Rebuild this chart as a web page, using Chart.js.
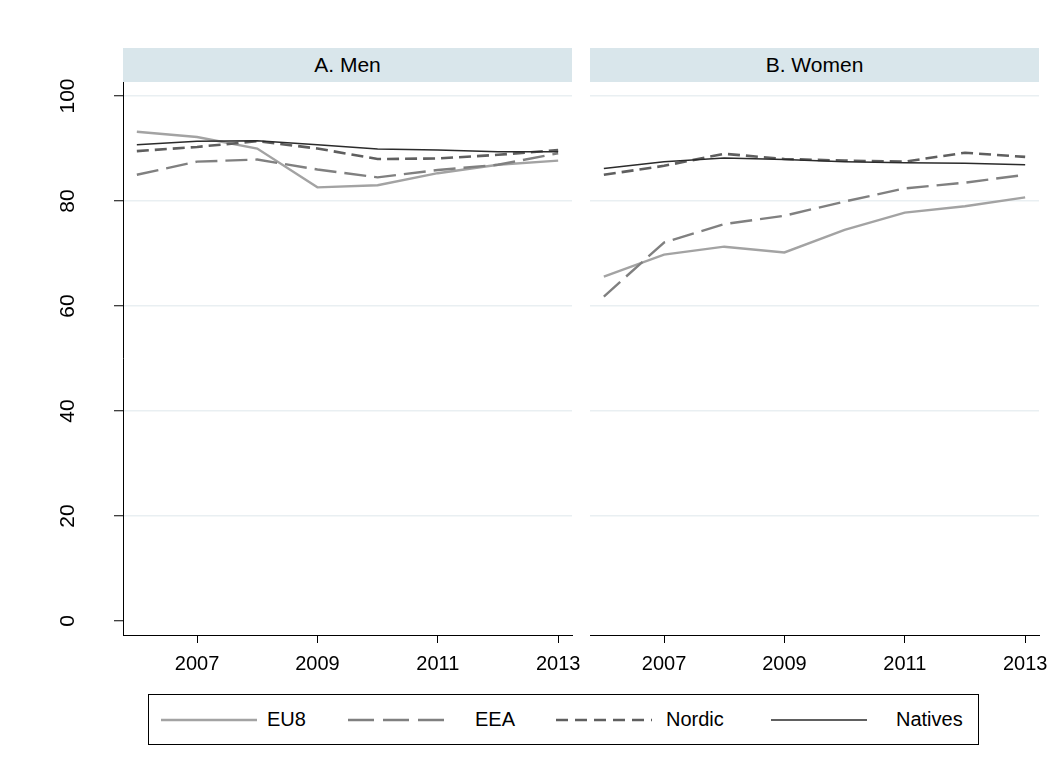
<!DOCTYPE html>
<html>
<head>
<meta charset="utf-8">
<script src="https://cdn.jsdelivr.net/npm/chart.js@4/dist/chart.umd.min.js"></script>
<style>
  body { margin: 0; background: #fff; font-family: "Liberation Sans", Arial, sans-serif; }
  #wrap { position: relative; width: 1063px; height: 773px; }
  canvas { position: absolute; top: 0; }
  .strip { position: absolute; top: 48px; height: 34px; background: #d9e6eb;
           font-size: 21px; line-height: 34px; text-align: center; color: #000; }
  #legend { position: absolute; left: 148px; top: 694px; width: 829px; height: 49px;
            border: 1px solid #000; }
  .key { position: absolute; top: 20px; }
  .lab { position: absolute; top: 0; line-height: 49px; font-size: 20px; color: #000; }
</style>
</head>
<body>
<div id="wrap">
  <canvas id="men" width="590" height="690" style="left:0"></canvas>
  <canvas id="women" width="473" height="690" style="left:590px"></canvas>
  <div class="strip" id="stripMen" style="left:123px;width:449px"></div>
  <div class="strip" id="stripWomen" style="left:590px;width:449px"></div>
  <div id="legend"></div>
</div>
<script>
// data
const years = [2006, 2007, 2008, 2009, 2010, 2011, 2012, 2013];
const xTicks = [2007, 2009, 2011, 2013];
const yTicks = [0, 20, 40, 60, 80, 100];
const panelTitles = ['A. Men', 'B. Women'];
const seriesNames = ['EU8', 'EEA', 'Nordic', 'Natives'];

const menEU8     = [93.2, 92.2, 90.0, 82.6, 83.0, 85.3, 86.9, 87.7];
const menEEA     = [85.0, 87.5, 87.9, 86.0, 84.5, 85.9, 86.9, 89.1];
const menNordic  = [89.5, 90.3, 91.4, 90.0, 88.0, 88.1, 88.8, 89.7];
const menNatives = [90.7, 91.4, 91.5, 90.7, 89.9, 89.7, 89.4, 89.4];

const womenEU8     = [65.6, 69.8, 71.3, 70.2, 74.5, 77.8, 79.0, 80.7];
const womenEEA     = [61.8, 72.1, 75.6, 77.2, 79.9, 82.4, 83.5, 85.0];
const womenNordic  = [85.0, 86.7, 89.0, 88.0, 87.7, 87.5, 89.2, 88.4];
const womenNatives = [86.2, 87.5, 88.2, 87.9, 87.5, 87.3, 87.2, 86.9];

// line styles per series
const colors = ['#a3a3a3', '#808080', '#5f5f5f', '#2b2b2b'];
const widths = [2.4, 2.4, 2.6, 1.5];
const dashes = [[], [22, 8], [12, 6], []];
const legendDashes = [[], [26, 9], [12, 7], []];

const FONT = { family: '"Liberation Sans", Arial, sans-serif', size: 20 };

function makePanel(id, values, showY) {
  const datasets = values.map((vals, i) => ({
    label: seriesNames[i],
    data: years.map((yr, j) => ({ x: yr, y: vals[j] })),
    borderColor: colors[i],
    borderWidth: widths[i],
    borderDash: dashes[i],
    pointRadius: 0,
    fill: false,
    tension: 0,
    order: seriesNames.length - 1 - i
  }));

  return new Chart(document.getElementById(id), {
    type: 'line',
    data: { datasets: datasets },
    options: {
      responsive: false,
      animation: false,
      events: [],
      layout: { padding: { left: 0, right: showY ? 18 : 24, top: 82, bottom: 0 } },
      plugins: { legend: { display: false }, tooltip: { enabled: false } },
      scales: {
        x: {
          type: 'linear',
          min: 2005.77,
          max: 2013.23,
          afterBuildTicks: s => { s.ticks = xTicks.map(v => ({ value: v })); },
          afterFit: s => { s.height = 55; },
          ticks: { font: FONT, color: '#000', padding: 9, maxRotation: 0, callback: v => String(v) },
          grid: { drawOnChartArea: false, tickLength: 8, tickColor: '#000', tickWidth: 1 },
          border: { color: '#000', width: 1 }
        },
        y: {
          min: -2.67,
          max: 102.67,
          afterBuildTicks: s => { s.ticks = yTicks.map(v => ({ value: v })); },
          afterFit: s => { s.width = showY ? 123 : 0; },
          ticks: {
            display: showY, font: { family: FONT.family, size: 21 }, color: '#000', padding: 28,
            minRotation: 90, maxRotation: 90, crossAlign: 'center', autoSkip: false
          },
          grid: {
            color: ctx => (ctx.tick && ctx.tick.value === 0) ? 'rgba(0,0,0,0)' : '#e9eff2',
            lineWidth: 1.5,
            drawTicks: showY, tickLength: 9, tickColor: '#000', tickWidth: 1
          },
          border: { display: showY, color: '#000', width: 1 }
        }
      }
    }
  });
}

makePanel('men', [menEU8, menEEA, menNordic, menNatives], true);
makePanel('women', [womenEU8, womenEEA, womenNordic, womenNatives], false);

document.getElementById('stripMen').textContent = panelTitles[0];
document.getElementById('stripWomen').textContent = panelTitles[1];

// legend
const keyLeft = [12, 199, 407, 622];
const labLeft = [118, 326, 517, 747];
const legend = document.getElementById('legend');
seriesNames.forEach((name, i) => {
  const svgNS = 'http://www.w3.org/2000/svg';
  const svg = document.createElementNS(svgNS, 'svg');
  svg.setAttribute('width', '96');
  svg.setAttribute('height', '10');
  svg.setAttribute('class', 'key');
  svg.style.left = keyLeft[i] + 'px';
  const line = document.createElementNS(svgNS, 'line');
  line.setAttribute('x1', '0'); line.setAttribute('x2', '96');
  line.setAttribute('y1', '5'); line.setAttribute('y2', '5');
  line.setAttribute('stroke', colors[i]);
  line.setAttribute('stroke-width', widths[i]);
  if (legendDashes[i].length) line.setAttribute('stroke-dasharray', legendDashes[i].join(' '));
  svg.appendChild(line);
  legend.appendChild(svg);

  const lab = document.createElement('div');
  lab.className = 'lab';
  lab.style.left = labLeft[i] + 'px';
  lab.textContent = name;
  legend.appendChild(lab);
});
</script>
</body>
</html>
